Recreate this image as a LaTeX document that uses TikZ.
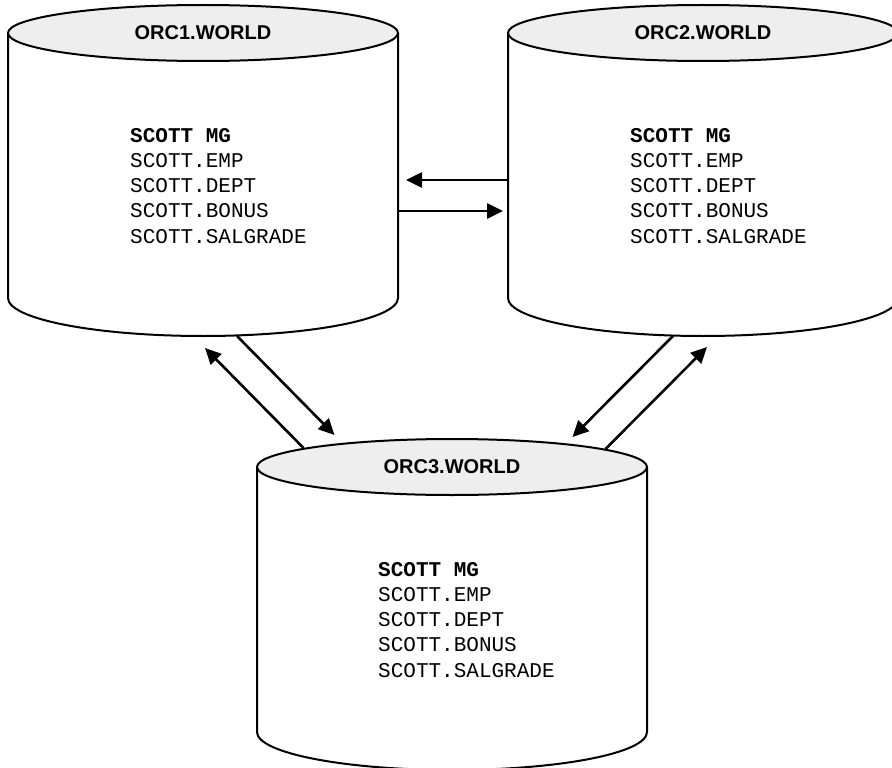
\documentclass[tikz,border=0pt]{standalone}
\usepackage{fontspec}
\setmainfont{Liberation Sans}
\setmonofont{Liberation Mono}
\usetikzlibrary{arrows.meta}

\definecolor{dbtop}{HTML}{EEEEEE}

\tikzset{
	dbbody/.style={shape=rectangle, minimum width=390pt, minimum height=265pt,
		inner sep=0pt, outer sep=0pt, anchor=north west},
	dbline/.style={line width=2pt, line join=round},
	dbtitle/.style={font=\fontsize{20}{24}\selectfont\bfseries, inner sep=0pt},
	dblist/.style={font=\fontsize{21}{25.2}\selectfont\ttfamily, align=left,
		inner sep=0pt, anchor=north west},
	link/.style={line width=2.6pt, -{Triangle[length=16pt, width=15pt]}},
}

% outline of one database drum, drawn round its body node
\newcommand{\dbshape}[1]{%
	\draw[dbline] (#1.north west) -- (#1.south west)
		arc[start angle=180, end angle=360, x radius=195pt, y radius=38pt] -- (#1.north east);
	\draw[dbline, fill=dbtop] (#1.north) ellipse [x radius=195pt, y radius=28pt];
}

\begin{document}
\begin{tikzpicture}[x=1pt, y=1pt]
				\useasboundingbox (0,0) rectangle (892,-768);
				\fill[white] (0,0) rectangle (892,-768);
				\node[dbbody] (orc1) at (8,-33) {};
				\node[dbbody] (orc2) at (508,-33) {};
				\node[dbbody] (orc3) at (257,-467) {};
				\dbshape{orc1}
				\dbshape{orc2}
				\dbshape{orc3}
				\node[dbtitle] (name1) at (orc1.north) {ORC1.WORLD};
				\node[dbtitle] (name2) at (orc2.north) {ORC2.WORLD};
				\node[dbtitle] (name3) at (orc3.north) {ORC3.WORLD};
				\node[dblist] (list1) at ([shift={(122,-95)}]orc1.north west)
					{\textbf{SCOTT MG}\\SCOTT.EMP\\SCOTT.DEPT\\SCOTT.BONUS\\SCOTT.SALGRADE};
				\node[dblist] (list2) at ([shift={(122,-95)}]orc2.north west)
					{\textbf{SCOTT MG}\\SCOTT.EMP\\SCOTT.DEPT\\SCOTT.BONUS\\SCOTT.SALGRADE};
				\node[dblist] (list3) at ([shift={(121,-95)}]orc3.north west)
					{\textbf{SCOTT MG}\\SCOTT.EMP\\SCOTT.DEPT\\SCOTT.BONUS\\SCOTT.SALGRADE};
				% orc1 <-> orc2
				\draw[link] ([yshift=-14.5pt]orc2.west) -- ([shift={(8,-14.5)}]orc1.east);
				\draw[link] ([yshift=-45.5pt]orc1.east) -- ([shift={(-5,-45.5)}]orc2.west);
				% orc1 <-> orc3
				\draw[link] ([shift={(34,-38)}]orc1.south) -- ([shift={(-117.5,32)}]orc3.north);
				\draw[link] ([shift={(-148.5,19)}]orc3.north) -- ([shift={(2,-50)}]orc1.south);
				% orc2 <-> orc3
				\draw[link] ([shift={(-30,-38)}]orc2.south) -- ([shift={(120.5,30)}]orc3.north);
				\draw[link] ([shift={(153.5,18)}]orc3.north) -- ([shift={(4,-49)}]orc2.south);
			\end{tikzpicture}
\end{document}
